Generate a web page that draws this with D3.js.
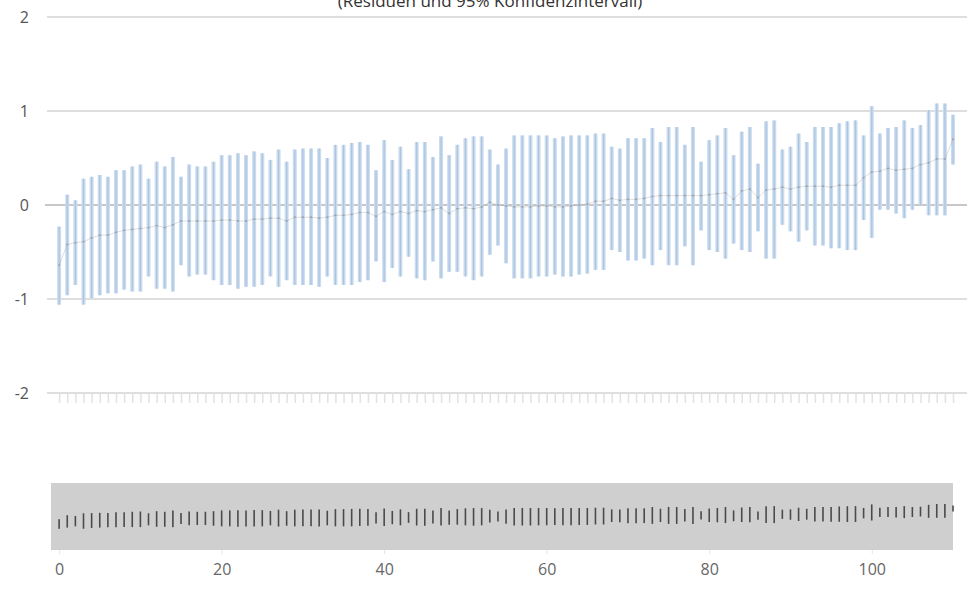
<!DOCTYPE html>
<html>
<head>
<meta charset="utf-8">
<script src="https://cdn.jsdelivr.net/npm/d3@7/dist/d3.min.js"></script>
<style>
  html, body { margin: 0; padding: 0; background: #ffffff; }
  svg { display: block; font-family: "Open Sans", "DejaVu Sans", sans-serif; }
</style>
</head>
<body>
<svg id="chart" width="967" height="589"></svg>
<script>
// Residuals of the fitted model with their 95% confidence bounds, one per observation (index 0..110)
const residual = [
  -0.64, -0.42, -0.40, -0.39, -0.35, -0.32, -0.32, -0.29, -0.27, -0.26,
  -0.25, -0.24, -0.22, -0.24, -0.21, -0.17, -0.17, -0.17, -0.17, -0.17,
  -0.16, -0.16, -0.17, -0.17, -0.15, -0.15, -0.14, -0.14, -0.17, -0.13,
  -0.13, -0.13, -0.14, -0.13, -0.11, -0.11, -0.10, -0.08, -0.08, -0.12,
  -0.07, -0.10, -0.07, -0.09, -0.06, -0.07, -0.05, -0.03, -0.09, -0.04,
  -0.03, -0.04, -0.02, 0.03, 0.00, -0.01, -0.02, -0.02, -0.02, -0.01,
  -0.01, -0.02, -0.02, -0.01, 0.00, 0.01, 0.04, 0.04, 0.07, 0.05,
  0.06, 0.06, 0.07, 0.09, 0.10, 0.10, 0.10, 0.10, 0.10, 0.10,
  0.11, 0.12, 0.13, 0.06, 0.15, 0.17, 0.08, 0.16, 0.17, 0.19,
  0.17, 0.19, 0.20, 0.20, 0.20, 0.19, 0.21, 0.21, 0.21, 0.29,
  0.35, 0.36, 0.39, 0.37, 0.38, 0.39, 0.43, 0.45, 0.49, 0.49,
  0.70
];
const lower = [
  -1.06, -0.96, -0.85, -1.06, -0.99, -0.96, -0.94, -0.94, -0.90, -0.92,
  -0.92, -0.76, -0.89, -0.89, -0.92, -0.64, -0.76, -0.74, -0.74, -0.80,
  -0.85, -0.85, -0.89, -0.87, -0.87, -0.85, -0.76, -0.87, -0.80, -0.85,
  -0.85, -0.85, -0.87, -0.76, -0.85, -0.85, -0.85, -0.82, -0.80, -0.60,
  -0.82, -0.67, -0.76, -0.55, -0.78, -0.80, -0.60, -0.78, -0.71, -0.71,
  -0.76, -0.80, -0.76, -0.53, -0.43, -0.62, -0.78, -0.78, -0.78, -0.76,
  -0.76, -0.74, -0.76, -0.76, -0.74, -0.73, -0.69, -0.69, -0.48, -0.50,
  -0.59, -0.59, -0.57, -0.64, -0.48, -0.64, -0.64, -0.44, -0.64, -0.27,
  -0.48, -0.50, -0.57, -0.41, -0.48, -0.50, -0.28, -0.57, -0.57, -0.21,
  -0.28, -0.39, -0.27, -0.43, -0.43, -0.46, -0.46, -0.48, -0.48, -0.16,
  -0.35, -0.05, -0.05, -0.09, -0.14, -0.05, 0.00, -0.11, -0.11, -0.11,
  0.43
];
const upper = [
  -0.23, 0.11, 0.05, 0.28, 0.30, 0.32, 0.30, 0.37, 0.37, 0.41,
  0.43, 0.28, 0.46, 0.41, 0.51, 0.30, 0.43, 0.41, 0.41, 0.46,
  0.53, 0.53, 0.55, 0.53, 0.57, 0.55, 0.48, 0.59, 0.46, 0.59,
  0.60, 0.60, 0.60, 0.50, 0.64, 0.64, 0.66, 0.67, 0.64, 0.37,
  0.69, 0.48, 0.62, 0.38, 0.67, 0.67, 0.51, 0.73, 0.53, 0.64,
  0.71, 0.73, 0.73, 0.59, 0.43, 0.60, 0.74, 0.74, 0.74, 0.74,
  0.74, 0.71, 0.73, 0.74, 0.74, 0.74, 0.76, 0.76, 0.62, 0.60,
  0.71, 0.71, 0.71, 0.82, 0.67, 0.83, 0.83, 0.64, 0.83, 0.46,
  0.69, 0.74, 0.82, 0.53, 0.78, 0.83, 0.44, 0.89, 0.90, 0.59,
  0.62, 0.76, 0.67, 0.83, 0.83, 0.83, 0.87, 0.89, 0.90, 0.74,
  1.05, 0.76, 0.82, 0.83, 0.90, 0.82, 0.85, 1.01, 1.08, 1.08,
  0.96
];
const yTicks = [2, 1, 0, -1, -2];
const xTickLabels = [0, 20, 40, 60, 80, 100];
const subtitle = "(Residuen und 95% Konfidenzintervall)";

const points = residual.map((r, i) => ({ i, r, lo: lower[i], hi: upper[i] }));

const svg = d3.select("#chart");

// Shared horizontal scale for the main plot and the navigator
const x = d3.scaleLinear().domain([-1, 110]).range([51, 953]);
const y = d3.scaleLinear().domain([-2, 2]).range([393, 17]);
const plotLeft = 47, plotRight = 967;

// Subtitle, partly above the top edge of the canvas
svg.append("text")
  .attr("x", 490).attr("y", 7)
  .attr("text-anchor", "middle")
  .attr("font-size", 17)
  .attr("fill", "#333")
  .text(subtitle);

// Horizontal grid lines
svg.append("g").selectAll("line")
  .data(yTicks.filter(d => d !== 0))
  .join("line")
  .attr("x1", plotLeft).attr("x2", plotRight)
  .attr("y1", d => y(d)).attr("y2", d => y(d))
  .attr("stroke", "#dedede").attr("stroke-width", 2);

// Zero line
svg.append("line")
  .attr("x1", plotLeft - 2).attr("x2", plotRight)
  .attr("y1", y(0)).attr("y2", y(0))
  .attr("stroke", "#b4b4b4").attr("stroke-width", 1.5);

// Y axis labels
svg.append("g").selectAll("text")
  .data(yTicks)
  .join("text")
  .attr("x", 29).attr("y", d => y(d))
  .attr("dy", "0.35em")
  .attr("text-anchor", "end")
  .attr("font-size", 16)
  .attr("fill", "#555")
  .text(d => d);

// X axis ticks on the plot's bottom line, one per observation
const xAxis = d3.axisBottom(x)
  .tickValues(points.map(p => p.i))
  .tickSize(10)
  .tickFormat("");
const gx = svg.append("g").attr("transform", `translate(0,${y(-2)})`).call(xAxis);
gx.select(".domain").remove();
gx.selectAll(".tick line").attr("stroke", "#e2e2e2").attr("stroke-width", 1.5);

// Confidence interval bars
const bars = svg.append("g");
bars.selectAll("rect")
  .data(points)
  .join("rect")
  .attr("x", d => x(d.i) - 2)
  .attr("width", 4)
  .attr("y", d => y(d.hi))
  .attr("height", d => y(d.lo) - y(d.hi))
  .attr("fill", "#cadcef");
bars.selectAll("line")
  .data(points)
  .join("line")
  .attr("x1", d => x(d.i)).attr("x2", d => x(d.i))
  .attr("y1", d => y(d.hi)).attr("y2", d => y(d.lo))
  .attr("stroke", "#adc4de").attr("stroke-width", 1.2);

// Residual line with point markers
svg.append("path")
  .datum(points)
  .attr("fill", "none")
  .attr("stroke", "#a0a0a0")
  .attr("stroke-opacity", 0.35)
  .attr("stroke-width", 1)
  .attr("d", d3.line().x(d => x(d.i)).y(d => y(d.r)));
svg.append("g").selectAll("rect")
  .data(points)
  .join("rect")
  .attr("x", d => x(d.i) - 1).attr("width", 2)
  .attr("y", d => y(d.r) - 0.75).attr("height", 1.5)
  .attr("fill", "#9ba3ac");

// Navigator
const navTop = 483, navBottom = 550;
const navY = d3.scaleLinear().domain([-2.9, 2.9]).range([navBottom, navTop]);
svg.append("rect")
  .attr("x", x(-1)).attr("y", navTop)
  .attr("width", x(110) - x(-1)).attr("height", navBottom - navTop)
  .attr("fill", "#cfcfcf");
svg.append("g").selectAll("line")
  .data(points)
  .join("line")
  .attr("x1", d => x(d.i)).attr("x2", d => x(d.i))
  .attr("y1", d => navY(d.hi)).attr("y2", d => navY(d.lo))
  .attr("stroke", "#4a4a4a").attr("stroke-width", 1.6);

// Navigator axis labels
const navAxis = d3.axisBottom(x).tickValues(xTickLabels).tickSize(4).tickFormat(d => d);
const gn = svg.append("g").attr("transform", `translate(0,${navBottom})`).call(navAxis);
gn.select(".domain").remove();
gn.selectAll(".tick line").attr("stroke", "#e6e6e6");
gn.selectAll(".tick text")
  .attr("y", 14)
  .attr("font-size", 16)
  .attr("font-family", "Open Sans, DejaVu Sans, sans-serif")
  .attr("fill", "#666");
</script>
</body>
</html>
